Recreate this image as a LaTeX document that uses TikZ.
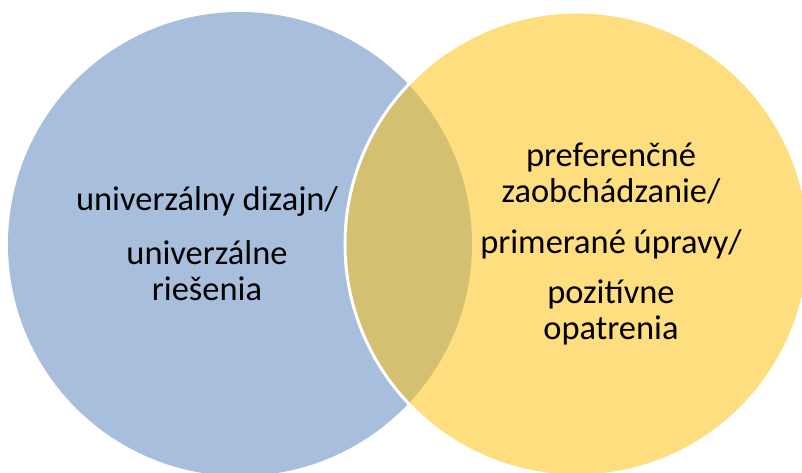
\documentclass[tikz,border=0pt]{standalone}
\usepackage{fontspec}
\setmainfont{Carlito}
\definecolor{setblue}{HTML}{A7BFDD}
\definecolor{setyellow}{HTML}{FFDE80}
\definecolor{setolive}{HTML}{D3C171}
\tikzset{
  settext/.style={align=center, font=\fontsize{19.6pt}{20.6pt}\selectfont},
}
\begin{document}
\begin{tikzpicture}[x=0.02cm, y=-0.02cm]
  \clip (0,0) rectangle (802,473);
  \fill[white] (0,0) rectangle (802,473);

  % the two sets
  \coordinate (blueC) at (240,244);
  \coordinate (yellowC) at (577,244);
  \fill[setblue] (blueC) circle [radius=232];
  \fill[setyellow] (yellowC) circle [radius=232];

  % overlap
  \begin{scope}
    \clip (blueC) circle [radius=232];
    \fill[setolive] (yellowC) circle [radius=232];
  \end{scope}
  \draw[white, line width=1.7pt] (yellowC) circle [radius=232];

  \node[settext] (designtext) at (207,244)
    {univerzálny dizajn/\\[10pt] univerzálne\\ riešenia};
  \node[settext] (measurestext) at (611,244)
    {preferenčné\\ zaobchádzanie/\\[8pt] primerané úpravy/\\[8pt] pozitívne\\ opatrenia};
\end{tikzpicture}
\end{document}
